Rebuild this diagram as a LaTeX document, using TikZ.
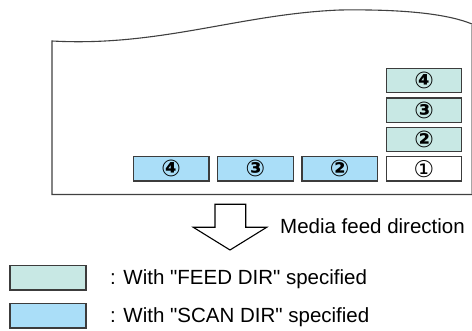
\documentclass[tikz,border=0pt]{standalone}
\usepackage{fontspec}
\setmainfont{Liberation Sans}[Ligatures=TeXOff]
\newfontfamily\circfont{DejaVu Sans}
\definecolor{feedc}{RGB}{200,232,228}
\definecolor{scanc}{RGB}{170,222,248}
\definecolor{edgec}{RGB}{60,60,60}
\tikzset{
  cell/.style={draw=edgec, line width=1.3pt, minimum width=75.5pt, minimum height=24.3pt, inner sep=0pt,
    font=\circfont\bfseries\fontsize{23}{23}\selectfont},
  feedcell/.style={cell, fill=feedc},
  scancell/.style={cell, fill=scanc},
  blankcell/.style={cell, fill=white, font=\circfont\fontsize{23}{23}\selectfont},
  legbox/.style={draw=edgec, line width=1.3pt, minimum width=76pt, minimum height=24.7pt, inner sep=0pt},
  lbl/.style={anchor=base west, inner sep=0pt, font=\fontsize{20.5}{20.5}\selectfont},
  paperline/.style={draw=black!75, line width=1.1pt},
}
\begin{document}
\begin{tikzpicture}[x=1pt,y=-1pt]
\useasboundingbox (0,0) rectangle (472,331);
% paper
\draw[paperline] (472,24) .. controls (450,15) and (410,9) .. (340,10)
  .. controls (240,14) and (160,47) .. (52,41) -- (52,194.5) -- (472,194.5);
\draw[black!35, line width=0.9pt] (471.3,25) -- (471.3,194.5);
% column (feed dir)
\node[feedcell] (f4) at (424,80.7) {④};
\node[feedcell] (f3) at (424,110.2) {③};
\node[feedcell] (f2) at (424,139.5) {②};
\node[blankcell] (s1) at (424,168.8) {①};
% row (scan dir)
\node[scancell] (s2) at (339.7,168.8) {②};
\node[scancell] (s3) at (255.4,168.8) {③};
\node[scancell] (s4) at (171.1,168.8) {④};
% arrow
\draw[black, line width=1.1pt, fill=white, line join=miter]
  (215,204.3) -- (245.7,204.3) -- (245.7,227.3) -- (266.7,227.3) -- (230,250)
  -- (193.3,227.3) -- (215,227.3) -- cycle;
\node[lbl] (dir) at (280,233.3) {Media feed direction};
% legend
\node[legbox, fill=feedc] (lf) at (48,277.7) {};
\node[legbox, fill=scanc] (ls) at (48,315.8) {};
\node[lbl] (lft) at (110,285) {: With "FEED DIR" specified};
\node[lbl] (lst) at (110,323) {: With "SCAN DIR" specified};
\end{tikzpicture}
\end{document}
